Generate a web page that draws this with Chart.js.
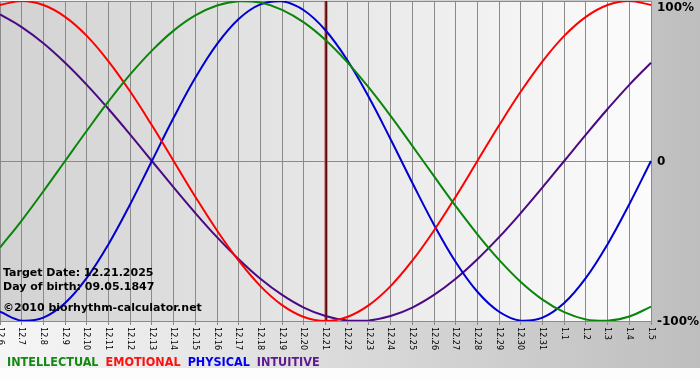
<!DOCTYPE html>
<html>
<head>
<meta charset="utf-8">
<script src="https://cdn.jsdelivr.net/npm/chart.js@4"></script>
<style>
  html, body { margin: 0; padding: 0; background: #ffffff; }
  #wrap { width: 700px; height: 380px; }
</style>
</head>
<body>
<div id="wrap"><canvas id="c" width="700" height="380"></canvas></div>
<script>
// ---- data ----
const dayLabels = ['12.6','12.7','12.8','12.9','12.10','12.11','12.12','12.13','12.14','12.15','12.16','12.17','12.18','12.19','12.20','12.21','12.22','12.23','12.24','12.25','12.26','12.27','12.28','12.29','12.30','12.31','1.1','1.2','1.3','1.4','1.5'];
const intellectual = [-54.1,-37.2,-18.9,0,18.9,37.2,54.1,69.0,81.5,91.0,97.2,99.9,99.0,94.5,86.6,75.6,61.8,45.8,28.2,9.5,-9.5,-28.2,-45.8,-61.8,-75.6,-86.6,-94.5,-99.0,-99.9,-97.2,-91.0];
const emotional    = [97.5,100,97.5,90.1,78.2,62.3,43.4,22.3,0,-22.3,-43.4,-62.3,-78.2,-90.1,-97.5,-100,-97.5,-90.1,-78.2,-62.3,-43.4,-22.3,0,22.3,43.4,62.3,78.2,90.1,97.5,100,97.5];
const physical     = [-94.2,-99.8,-97.9,-88.8,-73.1,-52.0,-27.0,0,27.0,52.0,73.1,88.8,97.9,99.8,94.2,81.7,63.1,39.8,13.6,-13.6,-39.8,-63.1,-81.7,-94.2,-99.8,-97.9,-88.8,-73.1,-52.0,-27.0,0];
const intuitive    = [91.6,83.7,73.6,61.4,47.6,32.5,16.5,0,-16.5,-32.5,-47.6,-61.4,-73.6,-83.7,-91.6,-96.9,-99.7,-99.7,-96.9,-91.6,-83.7,-73.6,-61.4,-47.6,-32.5,-16.5,0,16.5,32.5,47.6,61.4];
const seriesNames  = ['INTELLECTUAL','EMOTIONAL','PHYSICAL','INTUITIVE'];
const yTickValues  = [-100, 0, 100];
const yTickLabels  = ['-100%', '0', '100%'];
const targetLabel  = '12.21';
const infoLines    = ['Target Date: 12.21.2025', 'Day of birth: 09.05.1847', '\u00A92010 biorhythm-calculator.net'];

// ---- styles ----
const lineColors   = ['#0a850a', '#ff0000', '#0000d0', '#4b0a82'];
const legendColors = ['#138a13', '#ff1010', '#0000f0', '#5e1a90'];
const gridColor = '#8a8a8a';

const bgPlugin = {
  id: 'bg',
  beforeDraw(chart) {
    const { ctx, chartArea: a, width, height } = chart;
    ctx.save();
    ctx.fillStyle = '#fdfdfd';
    ctx.fillRect(0, 0, width, height);
    let g = ctx.createLinearGradient(0, 0, width, 0);
    g.addColorStop(0, '#f6f6f6');
    g.addColorStop(1, '#bebebe');
    ctx.fillStyle = g;
    ctx.fillRect(0, 0, width, 368);
    g = ctx.createLinearGradient(a.left, 0, a.right, 0);
    g.addColorStop(0, '#d2d2d2');
    g.addColorStop(1, '#fcfcfc');
    ctx.fillStyle = g;
    ctx.fillRect(a.left, a.top, a.right - a.left, a.bottom - a.top);
    ctx.restore();
  },
  beforeDatasetsDraw(chart) {
    const { ctx, chartArea: a, scales } = chart;
    const x = Math.round(scales.x.getPixelForValue(dayLabels.indexOf(targetLabel)));
    ctx.save();
    ctx.fillStyle = '#b04848';
    ctx.fillRect(x - 1.5, a.top, 3, a.bottom - a.top);
    ctx.fillStyle = '#5e0a0a';
    ctx.fillRect(x - 0.5, a.top, 1.5, a.bottom - a.top);
    ctx.restore();
  },
  afterDraw(chart) {
    const { ctx, chartArea: a, scales } = chart;
    ctx.save();
    // info text
    ctx.fillStyle = '#000000';
    ctx.font = 'bold 11px "DejaVu Sans", Verdana, sans-serif';
    ctx.textAlign = 'left';
    ctx.textBaseline = 'alphabetic';
    ctx.fillText(infoLines[0], 3, a.bottom - 45);
    ctx.fillText(infoLines[1], 3, a.bottom - 31);
    ctx.fillText(infoLines[2], 3, a.bottom - 10);

    // x tick labels rotated
    ctx.font = '9px "DejaVu Sans Condensed", "DejaVu Sans", sans-serif';
    ctx.textBaseline = 'middle';
    dayLabels.forEach((lab, i) => {
      const x = scales.x.getPixelForValue(i);
      ctx.save();
      ctx.translate(x, a.bottom + 6);
      ctx.rotate(Math.PI / 2);
      ctx.fillText(lab, 0, 0);
      ctx.restore();
    });

    // y labels on right
    ctx.font = 'bold 12px "DejaVu Sans", Verdana, sans-serif';
    ctx.textBaseline = 'middle';
    yTickValues.forEach((v, i) => {
      let y = scales.y.getPixelForValue(v);
      y = Math.max(y, a.top + 6) + 1;
      ctx.fillText(yTickLabels[i], a.right + 6, y);
    });

    // legend
    ctx.font = 'bold 12.5px "DejaVu Sans Condensed", "DejaVu Sans", sans-serif';
    ctx.textBaseline = 'alphabetic';
    let lx = 7;
    chart.data.datasets.forEach((ds, i) => {
      ctx.fillStyle = legendColors[i];
      ctx.fillText(ds.label, lx, 366);
      lx += ctx.measureText(ds.label).width + 7;
    });
    ctx.restore();
  }
};

const seriesData = [intellectual, emotional, physical, intuitive];

new Chart(document.getElementById('c'), {
  type: 'line',
  data: {
    labels: dayLabels,
    datasets: seriesData.map((d, i) => ({
      label: seriesNames[i],
      data: d,
      borderColor: lineColors[i],
      backgroundColor: lineColors[i],
      borderWidth: 2,
      pointRadius: 0,
      tension: 0.4,
      fill: false
    }))
  },
  options: {
    responsive: false,
    animation: false,
    events: [],
    layout: { padding: { top: 1, left: 0, right: 0, bottom: 0 } },
    plugins: { legend: { display: false }, tooltip: { enabled: false } },
    scales: {
      x: {
        type: 'category',
        offset: false,
        grid: { color: gridColor, lineWidth: 1, drawTicks: true, tickLength: 4 },
        border: { display: true, color: gridColor },
        ticks: { display: false },
        afterFit(scale) { scale.height = 59; scale.paddingLeft = 0; scale.paddingRight = 0; }
      },
      y: {
        type: 'linear',
        position: 'right',
        min: -100,
        max: 100,
        afterBuildTicks(scale) { scale.ticks = yTickValues.map(v => ({ value: v })); },
        grid: { color: gridColor, lineWidth: 1, drawTicks: false },
        border: { display: true, color: gridColor },
        ticks: { display: false },
        afterFit(scale) { scale.width = 49; scale.paddingTop = 0; scale.paddingBottom = 0; }
      }
    }
  },
  plugins: [bgPlugin]
});
</script>
</body>
</html>
